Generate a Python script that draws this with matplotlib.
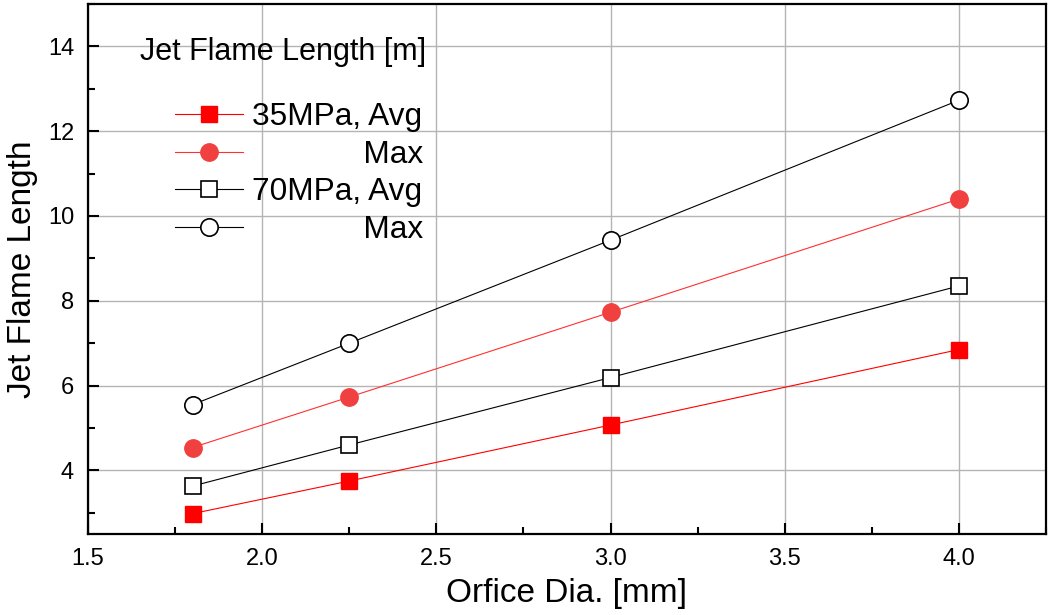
import matplotlib.pyplot as plt
from matplotlib.ticker import MultipleLocator

plt.rcParams['font.family'] = ['Liberation Sans', 'DejaVu Sans']

# data
dia = [1.8, 2.25, 3.0, 4.0]
avg_35 = [2.98, 3.75, 5.07, 6.85]
max_35 = [4.54, 5.73, 7.73, 10.40]
avg_70 = [3.63, 4.60, 6.19, 8.35]
max_70 = [5.55, 7.00, 9.43, 12.73]

pad = ' ' * 12 + '\u2009'  # right-align "Max" under "Avg"

fig = plt.figure(figsize=(10.49, 6.15), dpi=100)
ax = fig.add_axes([88 / 1049, 81 / 615, 958 / 1049, 530 / 615])

ax.plot(dia, avg_35, color='#ff0000', lw=0.8, marker='s', ms=12,
        mfc='#ff0000', mec='#ff0000', label='35MPa, Avg')
ax.plot(dia, max_35, color='#ff3030', lw=0.8, marker='o', ms=12.5,
        mfc='#f04040', mec='#f04040', label=pad + 'Max')
ax.plot(dia, avg_70, color='black', lw=0.8, marker='s', ms=12,
        mfc='white', mec='black', mew=1.2, label='70MPa, Avg')
ax.plot(dia, max_70, color='black', lw=0.8, marker='o', ms=12.5,
        mfc='white', mec='black', mew=1.2, label=pad + 'Max')

ax.set_xlim(1.5, 4.25)
ax.set_ylim(2.5, 15)
ax.xaxis.set_major_locator(MultipleLocator(0.5))
ax.xaxis.set_minor_locator(MultipleLocator(0.25))
ax.yaxis.set_minor_locator(MultipleLocator(1))
ax.set_yticks([4, 6, 8, 10, 12, 14])
ax.xaxis.set_major_formatter(plt.FormatStrFormatter('%.1f'))

ax.grid(True, which='major', color='#b4b4b4', lw=1.0)
ax.set_axisbelow(True)
for s in ax.spines.values():
    s.set_linewidth(1.6)
ax.tick_params(which='major', direction='in', length=8, width=1.5,
               labelsize=17, pad=10, top=False, right=False)
ax.tick_params(which='minor', direction='in', length=5, width=1.5,
               top=False, right=False)

ax.set_xlabel('Orfice Dia. [mm]', fontsize=24, labelpad=6)
ax.set_ylabel('Jet Flame Length', fontsize=24, labelpad=7)

ax.text(0.0543, 0.909, 'Jet Flame Length [m]', transform=ax.transAxes,
        fontsize=22, ha='left', va='center')
ax.legend(loc='upper left', bbox_to_anchor=(0.0908, 0.815), frameon=False,
          fontsize=22.8, borderpad=0, borderaxespad=0, handlelength=2.15,
          handletextpad=0.28, labelspacing=0.24)

fig.savefig('out.png', dpi=100)
